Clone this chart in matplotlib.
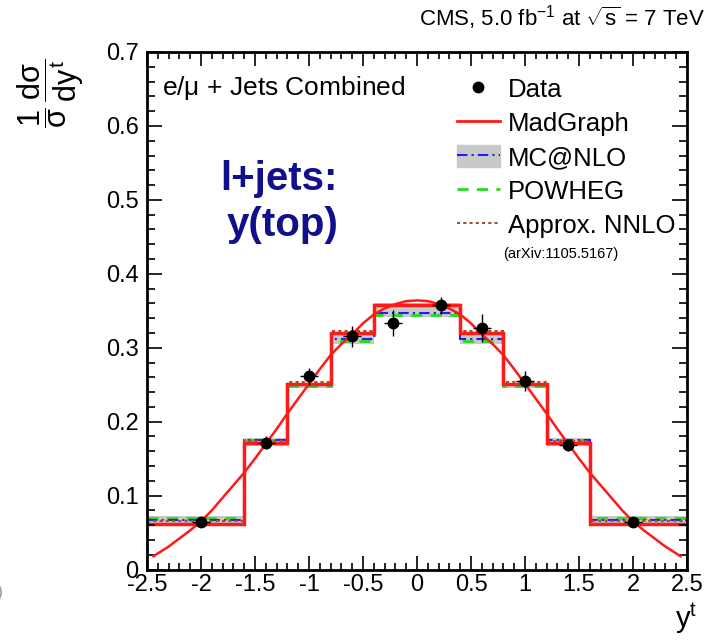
import numpy as np
import matplotlib
matplotlib.use("Agg")
from matplotlib import pyplot as plt
from matplotlib.lines import Line2D
from matplotlib.patches import Patch
from matplotlib.ticker import MultipleLocator

plt.rcParams['font.family'] = ['Liberation Sans', 'DejaVu Sans']
plt.rcParams['mathtext.fontset'] = 'custom'
plt.rcParams['mathtext.rm'] = 'Liberation Sans'
plt.rcParams['mathtext.it'] = 'Liberation Sans'
plt.rcParams['mathtext.sf'] = 'Liberation Sans'

# theory binning (central bin is one wide bin)
edges = [-2.5, -1.6, -1.2, -0.8, -0.4, 0.4, 0.8, 1.2, 1.6, 2.5]
madgraph = [0.061, 0.1714, 0.2513, 0.320, 0.3582, 0.3203, 0.2513, 0.1714, 0.061]
mcatnlo = [0.067, 0.1746, 0.250, 0.312, 0.347, 0.312, 0.250, 0.1746, 0.067]
mcatnlo_lo = [0.061, 0.1668, 0.245, 0.305, 0.341, 0.305, 0.245, 0.1668, 0.061]
mcatnlo_hi = [0.072, 0.1777, 0.2527, 0.321, 0.360, 0.321, 0.2527, 0.1777, 0.072]
powheg = [0.069, 0.175, 0.248, 0.3085, 0.3446, 0.3085, 0.248, 0.175, 0.069]
approx_nnlo = [0.065, 0.174, 0.253, 0.322, 0.3563, 0.322, 0.253, 0.174, 0.065]

# data points
data_x = [-2.0, -1.4, -1.0, -0.6, -0.22, 0.22, 0.6, 1.0, 1.4, 2.0]
data_y = [0.064, 0.1714, 0.2612, 0.3153, 0.3333, 0.3572, 0.3266, 0.2548, 0.1678, 0.064]
data_err = [0.003, 0.009, 0.011, 0.014, 0.018, 0.011, 0.019, 0.0135, 0.008, 0.003]
data_xerr = 0.085

# smooth red curve
curve_x = [-2.44, -2.3, -2.2, -2.1, -2.0, -1.9, -1.8, -1.7, -1.6, -1.5, -1.4, -1.3,
           -1.2, -1.1, -1.0, -0.9, -0.8, -0.7, -0.6, -0.5, -0.4, -0.3, -0.2, -0.1,
           0.0, 0.1, 0.2, 0.3, 0.4, 0.5, 0.6, 0.7, 0.8, 0.9, 1.0, 1.1, 1.2, 1.3,
           1.4, 1.5, 1.6, 1.7, 1.8, 1.9, 2.0, 2.1, 2.2, 2.3, 2.44]
curve_y = [0.018, 0.031, 0.042, 0.053, 0.065, 0.080, 0.097, 0.114, 0.131, 0.150, 0.170, 0.190,
           0.211, 0.231, 0.251, 0.271, 0.290, 0.305, 0.318, 0.333, 0.345, 0.353, 0.359, 0.363,
           0.364, 0.363, 0.359, 0.353, 0.345, 0.333, 0.318, 0.305, 0.290, 0.271, 0.251, 0.231, 0.211, 0.190,
           0.170, 0.150, 0.131, 0.114, 0.097, 0.080, 0.065, 0.053, 0.042, 0.031, 0.018]

red = '#ff1a1a'
blue = '#1f1fff'
green = '#22dd22'
brown = '#a0522d'
band = '#c9c9c9'

fig = plt.figure(figsize=(7.17, 6.41), dpi=100)
ax = fig.add_axes([147 / 717, 1 - 569.5 / 641, 540 / 717, 517.5 / 641])

ax.stairs(mcatnlo_hi, edges, baseline=mcatnlo_lo, fill=True, color=band, lw=0)
ax.stairs(powheg, edges, baseline=None, color=green, ls=(0, (4, 3)), lw=2)
ax.stairs(mcatnlo, edges, baseline=None, color=blue, ls=(0, (5, 2, 1, 2)), lw=1.5)
ax.stairs(approx_nnlo, edges, baseline=None, color=brown, ls=(0, (1.5, 1.5)), lw=1.5)
ax.stairs(madgraph, edges, baseline=None, color=red, lw=2.5)
ax.plot(curve_x, curve_y, color=red, lw=1.8)
ax.errorbar(data_x, data_y, yerr=data_err, xerr=data_xerr, fmt='o', color='black',
            ms=7.5, elinewidth=1.0, capsize=0, zorder=5)

ax.set_xlim(-2.5, 2.5)
ax.set_ylim(0, 0.7)
ax.xaxis.set_minor_locator(MultipleLocator(0.1))
ax.yaxis.set_minor_locator(MultipleLocator(0.02))
ax.set_xticks([-2.5, -2, -1.5, -1, -0.5, 0, 0.5, 1, 1.5, 2, 2.5])
ax.set_xticklabels(['-2.5', '-2', '-1.5', '-1', '-0.5', '0', '0.5', '1', '1.5', '2', '2.5'])
ax.set_yticks([0, 0.1, 0.2, 0.3, 0.4, 0.5, 0.6, 0.7])
ax.set_yticklabels(['0', '0.1', '0.2', '0.3', '0.4', '0.5', '0.6', '0.7'])
ax.tick_params(which='both', direction='in', top=True, right=True, width=1.2, labelsize=17)
ax.tick_params(axis='x', which='major', length=10, pad=3)
ax.tick_params(axis='x', which='minor', length=5)
ax.tick_params(axis='y', which='major', length=11, pad=6)
ax.tick_params(axis='y', which='minor', length=6)
for s in ax.spines.values():
    s.set_linewidth(2)

handles = [
    Line2D([], [], marker='o', ls='none', color='black', ms=7.5),
    Line2D([], [], color=red, lw=2),
    (Patch(color=band), Line2D([], [], color=blue, ls=(0, (5, 2, 1, 2)), lw=1.5)),
    Line2D([], [], color=green, ls=(0, (4, 3)), lw=2),
    Line2D([], [], color=brown, ls=(0, (1.5, 1.5)), lw=1.5),
]
labels = ['Data', 'MadGraph', 'MC@NLO', 'POWHEG', 'Approx. NNLO']
ax.legend(handles, labels, loc='upper left', bbox_to_anchor=(0.574, 0.951), frameon=False,
          fontsize=18.5, borderpad=0, borderaxespad=0, handlelength=1.67, handleheight=0.9,
          handletextpad=0.3, labelspacing=0.37)
ax.text(0.659, 0.610, '(arXiv:1105.5167)', transform=ax.transAxes, fontsize=10.5,
        ha='left', va='center')

ax.text(0.028, 0.93, r'e/$\mu$ + Jets Combined', transform=ax.transAxes, fontsize=19,
        ha='left', va='center')
ax.text(0.2444, 0.734, 'l+jets:', transform=ax.transAxes, fontsize=29, fontweight='bold',
        color='#10108c', ha='center', va='baseline')
ax.text(0.251, 0.644, 'y(top)', transform=ax.transAxes, fontsize=29, fontweight='bold',
        color='#10108c', ha='center', va='baseline')

fig.text(0.983, 0.972, r'CMS, 5.0 fb$^{\mathregular{-1}}$ at $\sqrt{\mathregular{s}}$ = 7 TeV',
         fontsize=16, ha='right', va='center')
fig.text(0.071, 0.855, r'$\dfrac{1}{\sigma}\,\dfrac{d\sigma}{dy^{t}}$', fontsize=22,
         rotation=90, ha='center', va='center')
fig.text(0.972, 0.02, r'y$^{\mathregular{t}}$', fontsize=21, ha='right', va='baseline')
fig.text(-0.004, 0.075, ')', fontsize=13, color='#8aa0b8', ha='left', va='center')

fig.savefig('out.png', dpi=100)
